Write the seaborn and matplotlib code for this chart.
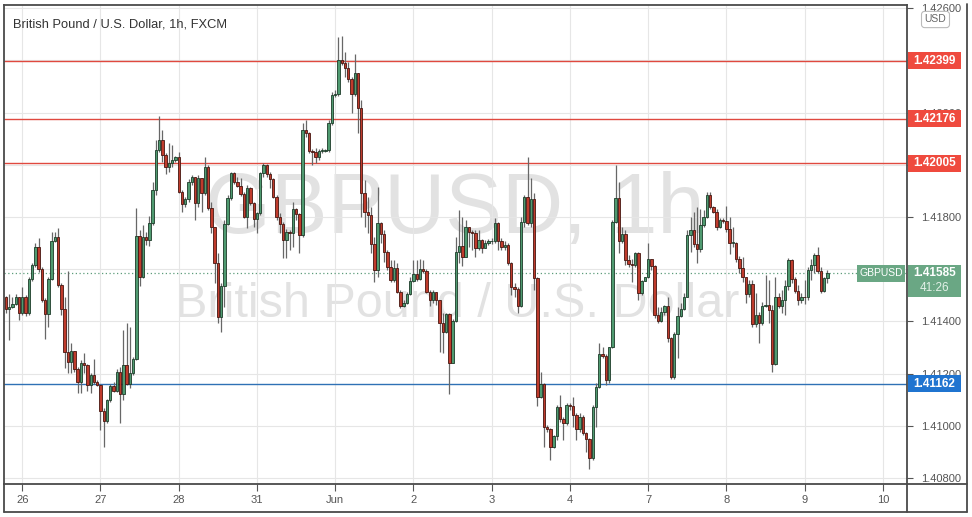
import numpy as np
import pandas as pd
import matplotlib
matplotlib.use("Agg")
import matplotlib.pyplot as plt
import matplotlib.transforms as mtransforms
from matplotlib.patches import Rectangle
from matplotlib.lines import Line2D
import seaborn as sns

# GBPUSD 1h candles (open of each bar = previous close)
first_open = 1.41492
close = [
    1.41446, 1.41454, 1.41465, 1.41492, 1.41433, 1.41495, 1.41433, 1.41561, 1.41615, 1.41684,
    1.41599, 1.41482, 1.41427, 1.41563, 1.41707, 1.41722, 1.41538, 1.41446, 1.41284, 1.41245,
    1.41288, 1.41216, 1.41169, 1.41242, 1.41233, 1.41156, 1.41194, 1.41169, 1.41156, 1.41058,
    1.41017, 1.41099, 1.41154, 1.41134, 1.41207, 1.41120, 1.41233, 1.41162, 1.41201, 1.41254,
    1.41727, 1.41570, 1.41723, 1.41712, 1.41777, 1.41903, 1.42057, 1.42095, 1.42038, 1.41993,
    1.42006, 1.42018, 1.42029, 1.41897, 1.41850, 1.41868, 1.41933, 1.41952, 1.41852, 1.41948,
    1.41891, 1.41993, 1.41833, 1.41760, 1.41622, 1.41418, 1.41536, 1.41773, 1.41874, 1.41967,
    1.41933, 1.41920, 1.41888, 1.41801, 1.41910, 1.41855, 1.41791, 1.41814, 1.41967, 1.41998,
    1.41965, 1.41944, 1.41878, 1.41801, 1.41773, 1.41712, 1.41744, 1.41737, 1.41829, 1.41811,
    1.41731, 1.42133, 1.42121, 1.42054, 1.42050, 1.42029, 1.42053, 1.42054, 1.42057, 1.42159,
    1.42267, 1.42271, 1.42402, 1.42389, 1.42370, 1.42327, 1.42271, 1.42350, 1.42216, 1.41893,
    1.41820, 1.41808, 1.41697, 1.41597, 1.41778, 1.41735, 1.41667, 1.41610, 1.41559, 1.41603,
    1.41514, 1.41459, 1.41472, 1.41504, 1.41556, 1.41582, 1.41561, 1.41600, 1.41594, 1.41514,
    1.41480, 1.41514, 1.41480, 1.41395, 1.41361, 1.41428, 1.41242, 1.41403, 1.41667, 1.41689,
    1.41648, 1.41760, 1.41744, 1.41740, 1.41680, 1.41712, 1.41680, 1.41699, 1.41706, 1.41709,
    1.41776, 1.41706, 1.41686, 1.41693, 1.41622, 1.41533, 1.41523, 1.41459, 1.41782, 1.41875,
    1.41776, 1.41868, 1.41565, 1.41112, 1.41160, 1.40994, 1.40987, 1.40918, 1.40961, 1.41073,
    1.41025, 1.41010, 1.41080, 1.41076, 1.41041, 1.40987, 1.41035, 1.40971, 1.40948, 1.40875,
    1.41071, 1.41150, 1.41275, 1.41267, 1.41176, 1.41301, 1.41782, 1.41872, 1.41709, 1.41735,
    1.41635, 1.41620, 1.41616, 1.41661, 1.41510, 1.41556, 1.41569, 1.41638, 1.41612, 1.41425,
    1.41403, 1.41434, 1.41459, 1.41335, 1.41188, 1.41352, 1.41421, 1.41446, 1.41495, 1.41731,
    1.41750, 1.41697, 1.41676, 1.41769, 1.41799, 1.41884, 1.41837, 1.41820, 1.41763, 1.41789,
    1.41786, 1.41753, 1.41702, 1.41702, 1.41638, 1.41603, 1.41569, 1.41504, 1.41542, 1.41390,
    1.41425, 1.41393, 1.41459, 1.41463, 1.41444, 1.41237, 1.41495, 1.41459, 1.41480, 1.41536,
    1.41635, 1.41561, 1.41518, 1.41480, 1.41495, 1.41492, 1.41597, 1.41616, 1.41654, 1.41594,
    1.41518, 1.41565, 1.41584,
]
high = [
    1.41497, 1.41505, 1.41495, 1.41505, 1.41495, 1.41530, 1.41501, 1.41569, 1.41625, 1.41701,
    1.41718, 1.41609, 1.41488, 1.41569, 1.41744, 1.41744, 1.41756, 1.41546, 1.41495, 1.41592,
    1.41316, 1.41284, 1.41226, 1.41252, 1.41280, 1.41238, 1.41201, 1.41254, 1.41175, 1.41162,
    1.41067, 1.41101, 1.41162, 1.41166, 1.41216, 1.41226, 1.41367, 1.41392, 1.41380, 1.41263,
    1.41833, 1.41750, 1.41769, 1.41743, 1.41804, 1.41934, 1.42095, 1.42187, 1.42133, 1.42046,
    1.42085, 1.42076, 1.42034, 1.42050, 1.41903, 1.41878, 1.41944, 1.41961, 1.41955, 1.41961,
    1.41942, 1.42031, 1.41999, 1.41859, 1.41763, 1.41661, 1.41546, 1.41789, 1.41884, 1.41974,
    1.41974, 1.41955, 1.41948, 1.41897, 1.41923, 1.41916, 1.41859, 1.41820, 1.41974, 1.42006,
    1.42003, 1.41974, 1.41948, 1.41884, 1.41814, 1.41782, 1.41753, 1.41750, 1.41859, 1.41833,
    1.41814, 1.42159, 1.42172, 1.42127, 1.42059, 1.42063, 1.42059, 1.42063, 1.42062, 1.42172,
    1.42280, 1.42287, 1.42491, 1.42493, 1.42433, 1.42395, 1.42338, 1.42424, 1.42350, 1.42248,
    1.41942, 1.41878, 1.41840, 1.41725, 1.41916, 1.41782, 1.41750, 1.41674, 1.41635, 1.41635,
    1.41622, 1.41520, 1.41482, 1.41514, 1.41571, 1.41635, 1.41635, 1.41638, 1.41635, 1.41600,
    1.41520, 1.41520, 1.41514, 1.41482, 1.41431, 1.41433, 1.41431, 1.41408, 1.41725, 1.41827,
    1.41801, 1.41789, 1.41763, 1.41750, 1.41750, 1.41750, 1.41714, 1.41712, 1.41714, 1.41718,
    1.41795, 1.41782, 1.41718, 1.41706, 1.41699, 1.41629, 1.41546, 1.41533, 1.41801, 1.41884,
    1.42031, 1.41948, 1.41891, 1.41571, 1.41207, 1.41163, 1.41003, 1.40990, 1.40965, 1.41080,
    1.41118, 1.41035, 1.41086, 1.41086, 1.41112, 1.41048, 1.41048, 1.41041, 1.40978, 1.40952,
    1.41080, 1.41163, 1.41316, 1.41303, 1.41275, 1.41303, 1.41789, 1.41999, 1.41935, 1.41763,
    1.41750, 1.41654, 1.41638, 1.41667, 1.41667, 1.41559, 1.41571, 1.41699, 1.41635, 1.41616,
    1.41456, 1.41456, 1.41463, 1.41495, 1.41342, 1.41361, 1.41456, 1.41469, 1.41508, 1.41750,
    1.41801, 1.41820, 1.41840, 1.41829, 1.41827, 1.41897, 1.41897, 1.41842, 1.41829, 1.41795,
    1.41795, 1.41842, 1.41801, 1.41763, 1.41704, 1.41651, 1.41648, 1.41571, 1.41559, 1.41559,
    1.41508, 1.41437, 1.41476, 1.41578, 1.41559, 1.41463, 1.41571, 1.41508, 1.41520, 1.41559,
    1.41642, 1.41638, 1.41571, 1.41540, 1.41508, 1.41559, 1.41610, 1.41638, 1.41663, 1.41686,
    1.41607, 1.41571, 1.41597,
]
low = [
    1.41431, 1.41328, 1.41450, 1.41463, 1.41405, 1.41424, 1.41420, 1.41424, 1.41556, 1.41609,
    1.41590, 1.41475, 1.41331, 1.41380, 1.41558, 1.41705, 1.41533, 1.41424, 1.41220, 1.41201,
    1.41201, 1.41207, 1.41127, 1.41124, 1.41201, 1.41134, 1.41124, 1.41160, 1.41152, 1.40984,
    1.40917, 1.41012, 1.41093, 1.41130, 1.41130, 1.41012, 1.41099, 1.41156, 1.41143, 1.41194,
    1.41252, 1.41536, 1.41566, 1.41693, 1.41689, 1.41769, 1.41884, 1.42049, 1.42011, 1.41965,
    1.41974, 1.41993, 1.42012, 1.41891, 1.41820, 1.41840, 1.41859, 1.41923, 1.41789, 1.41840,
    1.41820, 1.41884, 1.41827, 1.41737, 1.41546, 1.41393, 1.41361, 1.41456, 1.41769, 1.41865,
    1.41926, 1.41916, 1.41880, 1.41795, 1.41757, 1.41846, 1.41763, 1.41737, 1.41808, 1.41955,
    1.41955, 1.41910, 1.41872, 1.41789, 1.41737, 1.41642, 1.41642, 1.41674, 1.41686, 1.41789,
    1.41661, 1.41725, 1.42108, 1.42044, 1.41999, 1.42006, 1.42018, 1.42046, 1.42049, 1.42050,
    1.42152, 1.42261, 1.42264, 1.42382, 1.42338, 1.42318, 1.42197, 1.42264, 1.42121, 1.41801,
    1.41763, 1.41737, 1.41663, 1.41552, 1.41571, 1.41699, 1.41629, 1.41597, 1.41552, 1.41552,
    1.41508, 1.41450, 1.41454, 1.41467, 1.41501, 1.41552, 1.41556, 1.41559, 1.41587, 1.41508,
    1.41457, 1.41469, 1.41463, 1.41284, 1.41280, 1.41354, 1.41122, 1.41239, 1.41399, 1.41622,
    1.41612, 1.41674, 1.41686, 1.41674, 1.41648, 1.41674, 1.41661, 1.41686, 1.41693, 1.41697,
    1.41699, 1.41674, 1.41674, 1.41674, 1.41616, 1.41501, 1.41495, 1.41431, 1.41456, 1.41763,
    1.41769, 1.41763, 1.41520, 1.41076, 1.41105, 1.40920, 1.40978, 1.40869, 1.40914, 1.40946,
    1.41016, 1.40946, 1.41003, 1.41061, 1.40997, 1.40946, 1.40978, 1.40965, 1.40901, 1.40833,
    1.40869, 1.40997, 1.41144, 1.41259, 1.41156, 1.41163, 1.41297, 1.41776, 1.41661, 1.41699,
    1.41616, 1.41610, 1.41552, 1.41610, 1.41482, 1.41501, 1.41559, 1.41565, 1.41597, 1.41412,
    1.41393, 1.41399, 1.41425, 1.41322, 1.41178, 1.41178, 1.41259, 1.41418, 1.41444, 1.41492,
    1.41667, 1.41686, 1.41622, 1.41667, 1.41763, 1.41795, 1.41829, 1.41814, 1.41750, 1.41757,
    1.41778, 1.41744, 1.41658, 1.41686, 1.41629, 1.41584, 1.41552, 1.41469, 1.41495, 1.41380,
    1.41380, 1.41316, 1.41386, 1.41456, 1.41393, 1.41207, 1.41233, 1.41450, 1.41431, 1.41425,
    1.41520, 1.41546, 1.41508, 1.41463, 1.41472, 1.41467, 1.41482, 1.41559, 1.41584, 1.41587,
    1.41510, 1.41514, 1.41546,
]

day_labels = ['26', '27', '28', '31', 'Jun', '2', '3', '4', '7', '8', '9', '10']
price_ticks = [1.408, 1.410, 1.412, 1.414, 1.416, 1.418, 1.420, 1.422, 1.424, 1.426]
hidden_ticks = [1.416, 1.420, 1.424]  # covered by the price badges
resistance = [1.42399, 1.42176, 1.42005]
support = [1.41162]
last_price = 1.41585
countdown = '41:26'
title = 'British Pound / U.S. Dollar, 1h, FXCM'

df = pd.DataFrame({'close': close, 'high': high, 'low': low})
df['open'] = df['close'].shift(1).fillna(first_open)
df['bar'] = np.arange(len(df))
df['high'] = df[['high', 'open', 'close']].max(axis=1)
df['low'] = df[['low', 'open', 'close']].min(axis=1)
up = df['close'] >= df['open']

sns.set_theme(style="white")
plt.rcParams['font.family'] = ['Liberation Sans', 'DejaVu Sans']

W, H = 972, 517
fig = plt.figure(figsize=(W / 100, H / 100), dpi=100)
fig.patch.set_facecolor('white')
ax = fig.add_axes([4 / W, 33 / H, 903 / W, 479 / H])
ax.set_facecolor('white')

ymin, ymax = 1.40777, 1.42612
ax.set_xlim(-0.6, 276.4)
ax.set_ylim(ymin, ymax)
pxd = (ymax - ymin) / 479  # price per pixel

# grid
ax.set_yticks(price_ticks)
ax.set_yticklabels(['' if v in hidden_ticks else f'{v:.5f}' for v in price_ticks])
ax.set_xticks([5 + 24 * i for i in range(len(day_labels))])
ax.set_xticklabels(day_labels)
ax.grid(True, color='#e6e6e6', linewidth=0.8)
ax.set_axisbelow(True)

# watermark
ax.text(0.4994, 0.524, 'GBPUSD, 1h', transform=ax.transAxes, ha='center',
        va='baseline', fontsize=61, color='#e2e2e2', zorder=0.5)
ax.text(0.502, 0.3486, 'British Pound / U.S. Dollar', transform=ax.transAxes,
        ha='center', va='baseline', fontsize=35, color='#e2e2e2', zorder=0.5)

# levels
for lv in resistance:
    ax.axhline(lv, color='#e0493f', linewidth=1.0, zorder=1.5)
for lv in support:
    ax.axhline(lv, color='#2f71b5', linewidth=1.0, zorder=1.5)
ax.axhline(last_price, color='#5d9c7b', linewidth=0.9, linestyle=(0, (1, 2)), zorder=1.5)

# candles
ax.vlines(df['bar'], df['low'], df['high'], color='#676767', linewidth=0.9, zorder=3)
body_lo = df[['open', 'close']].min(axis=1)
body_h = (df['close'] - df['open']).abs().clip(lower=0.00002)
ax.bar(df['bar'][up], body_h[up], bottom=body_lo[up], width=0.74,
       color='#4f9a70', edgecolor='#1d3b29', linewidth=0.6, zorder=4)
ax.bar(df['bar'][~up], body_h[~up], bottom=body_lo[~up], width=0.74,
       color='#bf3b2c', edgecolor='#461610', linewidth=0.6, zorder=4)

# title
ax.text(0.00997, 0.954, title, transform=ax.transAxes, ha='left', va='baseline',
        fontsize=9.3, color='#333333', zorder=6)

# axes styling
for s in ax.spines.values():
    s.set_color('#4a4a4a')
    s.set_linewidth(1.3)
ax.yaxis.tick_right()
ax.tick_params(axis='y', right=True, left=False, labelright=True, labelleft=False,
               length=4, width=0.8, pad=6, labelsize=8, colors='#555555')
ax.tick_params(axis='x', bottom=True, length=5, width=0.8, pad=3, labelsize=8,
               colors='#555555')

# price badges on the right axis
trans = mtransforms.blended_transform_factory(fig.transFigure, ax.transData)
bx0, bx1 = 908 / W, 961 / W
def badge(y, text, color):
    ax.add_patch(Rectangle((bx0, y - 8.5 * pxd), bx1 - bx0, 17 * pxd, transform=trans,
                           facecolor=color, edgecolor='none', clip_on=False, zorder=20))
    ax.text((bx0 + bx1) / 2, y, text, transform=trans, ha='center', va='center',
            fontsize=8.5, fontweight='bold', color='white', clip_on=False, zorder=21)

for lv in resistance:
    badge(lv, f'{lv:.5f}', '#ef4a3e')
for lv in support:
    badge(lv, f'{lv:.5f}', '#1f74d0')

green = '#6aa784'
ax.add_patch(Rectangle((bx0, last_price - 24 * pxd), bx1 - bx0, 32.5 * pxd, transform=trans,
                       facecolor=green, edgecolor='none', clip_on=False, zorder=20))
ax.text((bx0 + bx1) / 2, last_price, f'{last_price:.5f}', transform=trans, ha='center',
        va='center', fontsize=8.5, fontweight='bold', color='white', clip_on=False, zorder=21)
ax.text((bx0 + bx1) / 2, last_price - 15 * pxd, countdown, transform=trans, ha='center',
        va='center', fontsize=8.5, color='#e3f1e8', clip_on=False, zorder=21)
ax.add_patch(Rectangle((857 / W, last_price - 8.5 * pxd), 48 / W, 17 * pxd, transform=trans,
                       facecolor=green, edgecolor='none', clip_on=False, zorder=20))
ax.text(881 / W, last_price, 'GBPUSD', transform=trans, ha='center', va='center',
        fontsize=7.5, color='white', clip_on=False, zorder=21)

fig.text(935.5 / W, 1 - 19.5 / H, 'USD', ha='center', va='center', fontsize=7.5,
         color='#666666', bbox=dict(boxstyle='round,pad=0.3', fc='white', ec='#bbbbbb', lw=0.8))

# outer frame pieces
def fline(x0, y0, x1, y1):
    fig.add_artist(Line2D([x0 / W, x1 / W], [1 - y0 / H, 1 - y1 / H], transform=fig.transFigure,
                          color='#4a4a4a', linewidth=1.3))
fline(907, 484, 967, 484)
fline(4, 512, 967, 512)
fline(4, 484, 4, 512)
fline(907, 484, 907, 512)
fline(967, 4, 967, 512)

fig.savefig('out.png', dpi=100)
